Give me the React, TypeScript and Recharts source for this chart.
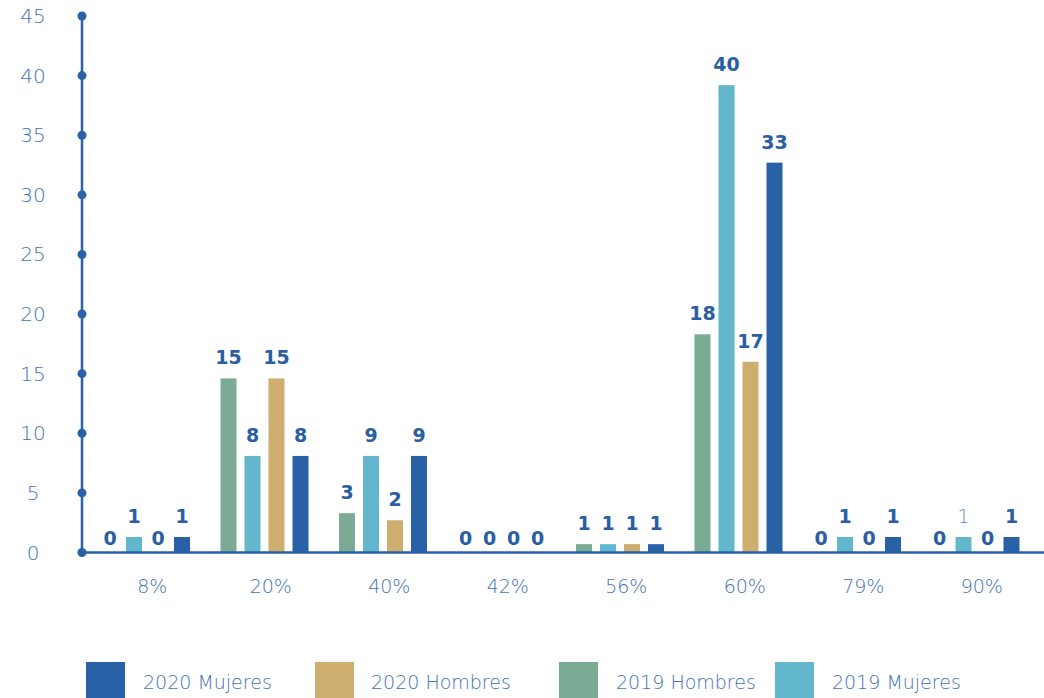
import React from 'react';
import { BarChart, Bar, XAxis, YAxis } from 'recharts';

const categories = ['8%', '20%', '40%', '42%', '56%', '60%', '79%', '90%'];
const hombres2019 = [0, 14.6, 3.3, 0, 0.7, 18.3, 0, 0];
const mujeres2019 = [1.3, 8.1, 8.1, 0, 0.7, 39.2, 1.3, 1.3];
const hombres2020 = [0, 14.6, 2.7, 0, 0.7, 16.0, 0, 0];
const mujeres2020 = [1.3, 8.1, 8.1, 0, 0.7, 32.7, 1.3, 1.3];
const hombres2019Labels = ['0', '15', '3', '0', '1', '18', '0', '0'];
const mujeres2019Labels = ['1', '8', '9', '0', '1', '40', '1', '1'];
const hombres2020Labels = ['0', '15', '2', '0', '1', '17', '0', '0'];
const mujeres2020Labels = ['1', '8', '9', '0', '1', '33', '1', '1'];
const yTicks = [0, 5, 10, 15, 20, 25, 30, 35, 40, 45];

const series = [
  { key: 'h2019', name: '2019 Hombres', color: '#7bab94', values: hombres2019, labels: hombres2019Labels },
  { key: 'm2019', name: '2019 Mujeres', color: '#62b7cc', values: mujeres2019, labels: mujeres2019Labels },
  { key: 'h2020', name: '2020 Hombres', color: '#ceae6e', values: hombres2020, labels: hombres2020Labels },
  { key: 'm2020', name: '2020 Mujeres', color: '#2861a6', values: mujeres2020, labels: mujeres2020Labels },
];

const legendOrder = ['m2020', 'h2020', 'h2019', 'm2019'];
const legendPos = [
  { box: 86, text: 143 },
  { box: 315, text: 371 },
  { box: 559, text: 616 },
  { box: 775, text: 832 },
];

const data = categories.map((cat, i) => {
  const row: any = { cat };
  series.forEach((s) => {
    row[s.key] = s.values[i];
    row[s.key + 'Label'] = s.labels[i];
  });
  return row;
});

const LABEL_COLOR = '#2a5ea3';
const TICK_COLOR = '#4172b3';
const AXIS_COLOR = '#2a62a8';
const FONT = '"DejaVu Sans", sans-serif';

const makeShape = (seriesKey: string, color: string) => (props: any) => {
  const { x, y, width, height, payload, index } = props;
  const label = payload ? payload[seriesKey + 'Label'] : undefined;
  const h = Math.max(0, Number(height) || 0);
  const top = Number(y);
  const zero = label === '0';
  const thin = seriesKey === 'm2019' && index === 7;
  return (
    <g>
      {h > 0 && <rect x={x} y={top} width={width} height={h} fill={color} />}
      {label !== undefined && (
        <text
          x={Number(x) + Number(width) / 2}
          y={top - (zero ? 8 : 14)}
          textAnchor="middle"
          fill={thin ? '#5a8fcc' : LABEL_COLOR}
          fontFamily={FONT}
          fontWeight={thin ? 200 : 700}
          fontSize={19}
        >
          {label}
        </text>
      )}
    </g>
  );
};

const YTick = (props: any) => {
  const { y, payload } = props;
  return (
    <g>
      <circle cx={82} cy={y} r={4.5} fill={AXIS_COLOR} />
      <text x={33} y={y + 7} textAnchor="middle" fill={TICK_COLOR} fontFamily={FONT} fontWeight={200} fontSize={20}>
        {payload.value}
      </text>
    </g>
  );
};

const XTick = (props: any) => {
  const { x, payload } = props;
  return (
    <text x={x + 6} y={552.5 + 40} textAnchor="middle" fill={TICK_COLOR} fontFamily={FONT} fontWeight={200} fontSize={19}>
      {payload.value}
    </text>
  );
};

export default function App() {
  return (
    <div style={{ position: 'absolute', left: 0, top: 0, width: 1044, height: 698, background: '#fff', overflow: 'hidden' }}>
      <BarChart
        width={1044}
        height={698}
        data={data}
        margin={{ top: 16, right: 0, left: 0, bottom: 85.5 }}
        barSize={16}
        barGap={8}
      >
        <XAxis
          dataKey="cat"
          height={60}
          padding={{ left: 5, right: 9 }}
          axisLine={{ stroke: AXIS_COLOR, strokeWidth: 2.5 }}
          tickLine={false}
          tick={<XTick />}
          interval={0}
        />
        <YAxis
          width={82}
          domain={[0, 45]}
          ticks={yTicks}
          interval={0}
          axisLine={{ stroke: AXIS_COLOR, strokeWidth: 2.5 }}
          tickLine={false}
          tick={<YTick />}
        />
        {series.map((s) => (
          <Bar
            key={s.key}
            dataKey={s.key}
            name={s.name}
            fill={s.color}
            isAnimationActive={false}
            shape={makeShape(s.key, s.color)}
          />
        ))}
      </BarChart>
      {legendOrder.map((k, i) => {
        const s = series.find((ss) => ss.key === k)!;
        return (
          <React.Fragment key={k}>
            <div style={{ position: 'absolute', left: legendPos[i].box, top: 662, width: 39, height: 40, background: s.color }} />
            <div
              style={{
                position: 'absolute',
                left: legendPos[i].text,
                top: 670,
                fontFamily: FONT,
                fontWeight: 200,
                fontSize: 19,
                color: TICK_COLOR,
                whiteSpace: 'nowrap',
                lineHeight: '24px',
              }}
            >
              {s.name}
            </div>
          </React.Fragment>
        );
      })}
    </div>
  );
}
